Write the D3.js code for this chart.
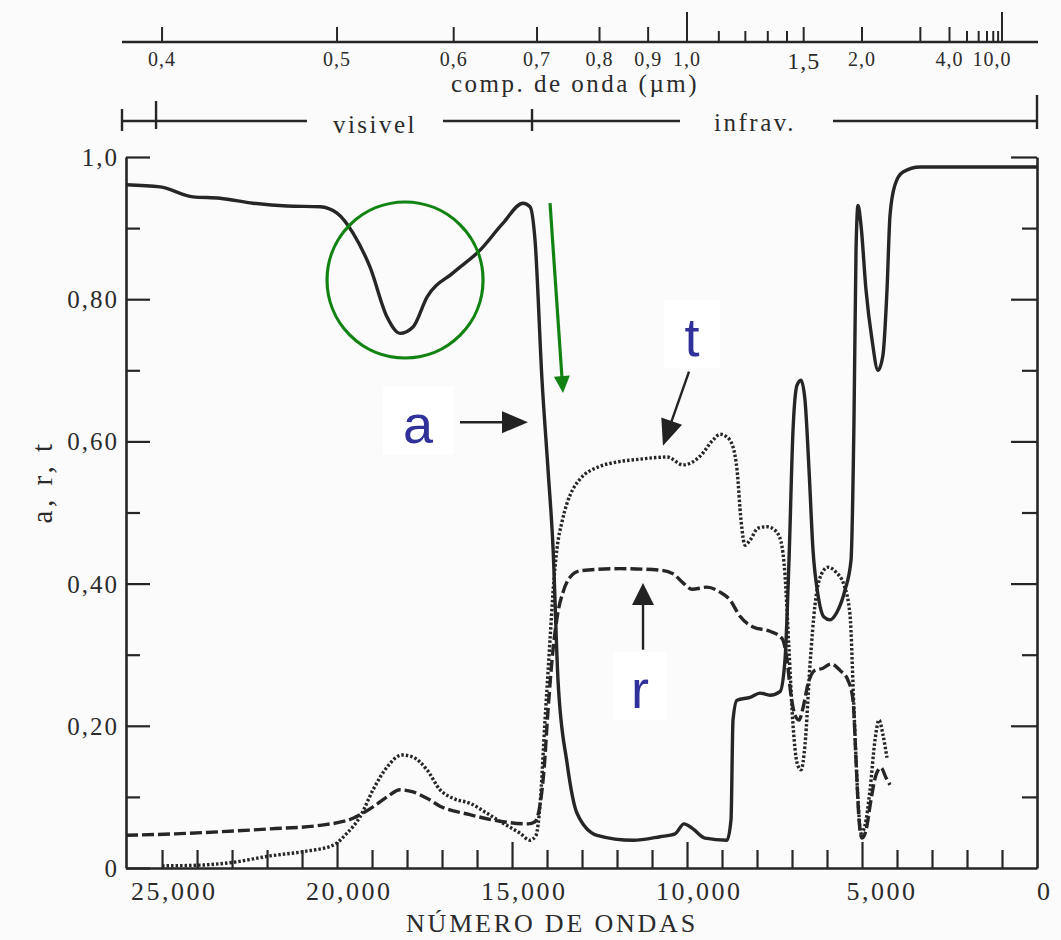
<!DOCTYPE html>
<html lang="pt">
<head>
<meta charset="utf-8">
<title>a, r, t</title>
<script src="https://cdn.jsdelivr.net/npm/d3@7/dist/d3.min.js"></script>
<style>
html,body{margin:0;padding:0;background:#fbfbfb;}
svg{display:block;}
.serif{font-family:"Liberation Serif","DejaVu Serif",serif;fill:#2b2b2b;}
.sans{font-family:"Liberation Sans",Arial,sans-serif;}
</style>
</head>
<body>
<svg id="chart" width="1061" height="940"></svg>
<script>
// ================= DATA =================
// absorptance (a) — wavenumber (cm-1) and value
const wavenumberA = [26030,25057,24114,23343,22400,21429,20486,20000,19543,19057,18571,18200,17829,17429,16686,15914,15257,14686,14486,14343,14143,13971,13829,13686,13429,13143,12571,11543,10771,10343,10086,9829,9486,8857,8743,8686,8571,8200,7914,7629,7343,7200,7086,6971,6857,6743,6629,6514,6400,6257,6086,5914,5714,5486,5314,5229,5171,5114,5029,4886,4714,4543,4400,4286,4200,4057,3829,3343,0];
const absorptance = [0.961,0.958,0.944,0.942,0.935,0.931,0.930,0.921,0.893,0.845,0.775,0.752,0.761,0.803,0.837,0.869,0.907,0.935,0.930,0.883,0.686,0.560,0.451,0.264,0.148,0.077,0.046,0.039,0.044,0.048,0.062,0.055,0.042,0.039,0.068,0.208,0.236,0.240,0.246,0.243,0.248,0.293,0.433,0.616,0.679,0.686,0.658,0.560,0.447,0.384,0.353,0.349,0.360,0.391,0.433,0.630,0.869,0.932,0.904,0.813,0.743,0.700,0.722,0.813,0.918,0.961,0.979,0.986,0.986];

// reflectance (r)
const wavenumberR = [26030,24629,23343,21914,20486,19543,18971,18571,18200,17829,17429,17057,16200,15257,14543,14343,14200,14086,13971,13829,13686,13543,13343,13057,11914,10771,10400,10114,9857,9429,9057,8771,8486,8114,7629,7286,7143,7029,6914,6800,6686,6543,6343,6114,5886,5629,5400,5257,5171,5086,5000,4886,4743,4600,4457,4314,4200];
const reflectance = [0.046,0.048,0.051,0.055,0.060,0.070,0.086,0.100,0.110,0.107,0.098,0.087,0.075,0.065,0.062,0.065,0.089,0.138,0.222,0.307,0.360,0.388,0.409,0.418,0.421,0.419,0.414,0.401,0.392,0.395,0.388,0.377,0.354,0.339,0.333,0.323,0.293,0.243,0.215,0.208,0.225,0.259,0.278,0.281,0.287,0.278,0.264,0.236,0.152,0.068,0.042,0.053,0.096,0.131,0.141,0.127,0.117];

// transmittance (t)
const wavenumberT = [25000,23914,22971,21914,20971,20114,19714,19343,18971,18571,18143,17829,17429,17057,16686,16200,15714,15257,14771,14486,14314,14200,14057,13914,13829,13714,13571,13429,13257,13057,12486,12114,11343,10571,10114,9629,9257,9057,8857,8686,8571,8457,8343,8200,7971,7714,7486,7314,7200,7086,6971,6857,6743,6629,6486,6343,6171,5971,5743,5514,5343,5229,5114,5029,4914,4771,4629,4514,4400,4286];
const transmittance = [0.003,0.004,0.008,0.017,0.023,0.032,0.049,0.072,0.110,0.142,0.159,0.156,0.138,0.110,0.098,0.091,0.077,0.063,0.049,0.039,0.046,0.089,0.208,0.321,0.388,0.450,0.487,0.513,0.533,0.547,0.565,0.570,0.575,0.578,0.567,0.579,0.602,0.610,0.606,0.592,0.560,0.489,0.454,0.461,0.478,0.480,0.475,0.459,0.412,0.307,0.201,0.148,0.138,0.173,0.286,0.370,0.412,0.423,0.416,0.398,0.356,0.222,0.096,0.049,0.060,0.110,0.180,0.208,0.187,0.155];

// bottom axis (wavenumber)
const xTickValues = [25000,20000,15000,10000,5000,0];
const xTickLabels = ["25,000","20,000","15,000","10,000","5,000","0"];
// left axis
const yTickValues = [0,0.2,0.4,0.6,0.8,1.0];
const yTickLabels = ["0","0,20","0,40","0,60","0,80","1,0"];
// top axis (wavelength, µm)
const wavelengthTicks = [0.4,0.5,0.6,0.7,0.8,0.9,1.0,1.1,1.2,1.3,1.4,1.5,2.0,3.0,4.0,5.0,6.0,7.0,8.0,9.0,10.0];
const wavelengthLabelValues = [0.4,0.5,0.6,0.7,0.8,0.9,1.0,1.5,2.0,4.0,10.0];
const wavelengthLabels = ["0,4","0,5","0,6","0,7","0,8","0,9","1,0","1,5","2,0","4,0","10,0"];

// ================= LAYOUT =================
const W = 1061, H = 940;
const plot = {left:126, right:1037, top:157, bottom:868};
const xScale = d3.scaleLinear().domain([26030, 0]).range([plot.left, plot.right]);
const yScale = d3.scaleLinear().domain([0, 1]).range([plot.bottom, plot.top]);
const ink = "#262626";
const svg = d3.select("#chart");
svg.append("rect").attr("width", W).attr("height", H).attr("fill", "#fbfbfb");

function styleAxis(g, w){
  g.select(".domain").attr("stroke", ink).attr("stroke-width", w);
  g.selectAll(".tick line").attr("stroke", ink).attr("stroke-width", 2.2);
}

// ---- left axis ----
const gL = svg.append("g").attr("transform", `translate(${plot.left},0)`)
  .call(d3.axisLeft(yScale).tickValues(yTickValues).tickFormat((d,i)=>yTickLabels[i])
    .tickSize(-24).tickSizeOuter(0).tickPadding(7));
styleAxis(gL, 2.6);
gL.selectAll(".tick text").attr("class","serif").attr("fill","#2b2b2b")
  .style("font-size","25px").style("letter-spacing","2px").attr("dy","0.34em");
const gL2 = svg.append("g").attr("transform", `translate(${plot.left},0)`)
  .call(d3.axisLeft(yScale).tickValues([0.1,0.3,0.5,0.7,0.9]).tickFormat("").tickSize(-14).tickSizeOuter(0));
gL2.select(".domain").remove(); styleAxis(gL2, 0);

// ---- right axis ----
const gR = svg.append("g").attr("transform", `translate(${plot.right},0)`)
  .call(d3.axisRight(yScale).tickValues([0.2,0.4,0.6,0.8,1.0]).tickFormat("").tickSize(-26).tickSizeOuter(0));
styleAxis(gR, 2.6);
const gR2 = svg.append("g").attr("transform", `translate(${plot.right},0)`)
  .call(d3.axisRight(yScale).tickValues([0.1,0.3,0.5,0.7,0.9]).tickFormat("").tickSize(-15).tickSizeOuter(0));
gR2.select(".domain").remove(); styleAxis(gR2, 0);

// ---- bottom axis ----
const minorX = d3.range(1000, 26000, 1000).filter(v => v % 5000 !== 0 || v === 25000);
const gB = svg.append("g").attr("transform", `translate(0,${plot.bottom})`)
  .call(d3.axisBottom(xScale).tickValues(minorX).tickFormat("").tickSize(-18).tickSizeOuter(0));
styleAxis(gB, 2.6);
const gB2 = svg.append("g").attr("transform", `translate(0,${plot.bottom})`)
  .call(d3.axisBottom(xScale).tickValues([20000,15000,10000,5000]).tickFormat("").tickSize(-26).tickSizeOuter(0));
gB2.select(".domain").remove(); styleAxis(gB2, 0);

// bottom labels: comma aligned on the tick
const measure = svg.append("text").attr("class","serif").style("font-size","26px")
  .style("letter-spacing","2.5px").attr("visibility","hidden");
const xLab = svg.append("g");
xTickValues.forEach((v,i)=>{
  const lab = xTickLabels[i];
  const k = lab.indexOf(",");
  let pre = 0;
  if (k > 0) { measure.text(lab.slice(0,k)); pre = measure.node().getComputedTextLength(); }
  xLab.append("text").attr("class","serif").attr("x", xScale(v) - pre).attr("y", plot.bottom + 32)
    .style("font-size","26px").style("letter-spacing","2.5px").text(lab);
});
measure.remove();

svg.append("text").attr("class","serif").attr("x", 552).attr("y", 932).attr("text-anchor","middle")
  .style("font-size","26px").style("letter-spacing","2.8px").text("NÚMERO DE ONDAS");

svg.append("text").attr("class","serif").attr("transform","translate(52,482) rotate(-90)")
  .attr("text-anchor","middle").style("font-size","29px").style("letter-spacing","3.5px").text("a, r, t");

// ---- top wavelength axis ----
const topY = 42;
const lamX = l => xScale(10000 / l);
const gT = svg.append("g");
gT.append("line").attr("x1", 122).attr("x2", 1038).attr("y1", topY).attr("y2", topY)
  .attr("stroke", ink).attr("stroke-width", 2.4);
gT.selectAll("line.tk").data(wavelengthTicks).join("line").attr("class","tk")
  .attr("x1", d => lamX(d)).attr("x2", d => lamX(d)).attr("y1", topY)
  .attr("y2", d => topY - ((d === 1.0 || d === 10.0) ? 30 : (wavelengthLabelValues.includes(d) || d === 3.0) ? 15 : 11))
  .attr("stroke", ink).attr("stroke-width", 2);
gT.selectAll("text").data(wavelengthLabelValues).join("text").attr("class","serif")
  .attr("x", d => lamX(d) + (d === 10.0 ? -10 : 0))
  .attr("y", d => d === 1.5 ? topY + 27 : topY + 24)
  .attr("text-anchor","middle")
  .style("font-size", d => d === 1.5 ? "24px" : "20px").style("letter-spacing","1px")
  .text((d,i) => wavelengthLabels[i]);
svg.append("text").attr("class","serif").attr("x", 575).attr("y", 92).attr("text-anchor","middle")
  .style("font-size","25px").style("letter-spacing","2.5px").text("comp. de onda (µm)");

// ---- visible / infrared band ----
const bandY = 121;
const gBand = svg.append("g").attr("stroke", ink).attr("stroke-width", 2.4);
[[122, 307], [443, 680], [833, 1037]].forEach(s =>
  gBand.append("line").attr("x1", s[0]).attr("x2", s[1]).attr("y1", bandY).attr("y2", bandY));
gBand.append("line").attr("x1", 122).attr("x2", 122).attr("y1", bandY - 12).attr("y2", bandY + 10);
gBand.append("line").attr("x1", lamX(0.4)-6).attr("x2", lamX(0.4)-6).attr("y1", bandY - 20).attr("y2", bandY + 8);
gBand.append("line").attr("x1", lamX(0.7)-5).attr("x2", lamX(0.7)-5).attr("y1", bandY - 12).attr("y2", bandY + 10);
gBand.append("line").attr("x1", 1037).attr("x2", 1037).attr("y1", bandY - 26).attr("y2", bandY + 8);
svg.append("text").attr("class","serif").attr("x", 375).attr("y", 133).attr("text-anchor","middle")
  .style("font-size","25px").style("letter-spacing","2.5px").text("visivel");
svg.append("text").attr("class","serif").attr("x", 755).attr("y", 131).attr("text-anchor","middle")
  .style("font-size","25px").style("letter-spacing","2.5px").text("infrav.");

// ---- curves ----
const series = [
  {name:"a", wn:wavenumberA, val:absorptance, dash:null},
  {name:"r", wn:wavenumberR, val:reflectance, dash:"12,4"},
  {name:"t", wn:wavenumberT, val:transmittance, dash:"2.5,2"}
];
const line = d3.line().x(d => xScale(d[0])).y(d => yScale(d[1])).curve(d3.curveMonotoneX);
svg.append("g").selectAll("path").data(series).join("path")
  .attr("d", s => line(d3.zip(s.wn, s.val)))
  .attr("fill","none").attr("stroke", ink).attr("stroke-width", 3.4)
  .attr("stroke-linejoin","round")
  .attr("stroke-dasharray", s => s.dash);

// ---- annotations ----
const ann = svg.append("g");
function arrow(x1, y1, x2, y2, len, half, color, w){
  const dx = x2 - x1, dy = y2 - y1, L = Math.hypot(dx, dy), ux = dx / L, uy = dy / L;
  const bx = x2 - ux * len, by = y2 - uy * len;
  ann.append("line").attr("x1", x1).attr("y1", y1).attr("x2", bx + ux * 3).attr("y2", by + uy * 3)
    .attr("stroke", color).attr("stroke-width", w);
  ann.append("path").attr("d", `M${x2},${y2}L${bx - uy * half},${by + ux * half}L${bx + uy * half},${by - ux * half}Z`)
    .attr("fill", color);
}
const P = (w, v) => [xScale(w), yScale(v)];
// green circle and arrow
const cc = P(18057, 0.827);
ann.append("circle").attr("cx", cc[0]).attr("cy", cc[1]).attr("r", 78)
  .attr("fill","none").attr("stroke","#128312").attr("stroke-width", 3.2);
const g1 = P(13914, 0.935), g2 = P(13543, 0.668);
arrow(g1[0], g1[1], g2[0], g2[1], 17, 8, "#128312", 3.2);

// blue labels with white boxes
const labels = [
  {txt:"a", c:P(17686, 0.629), w:70, h:68},
  {txt:"t", c:P(9857, 0.751), w:56, h:68},
  {txt:"r", c:P(11343, 0.256), w:54, h:68}
];
labels.forEach(l => {
  ann.append("rect").attr("x", l.c[0] - l.w/2).attr("y", l.c[1] - l.h/2).attr("width", l.w).attr("height", l.h).attr("fill","#ffffff");
  ann.append("text").attr("class","sans").attr("x", l.c[0]).attr("y", l.c[1] + 22).attr("text-anchor","middle")
    .style("font-size","54px").attr("fill","#31319c").text(l.txt);
});
const a1 = P(16486, 0.627), a2 = P(14543, 0.627);
arrow(a1[0], a1[1], a2[0], a2[1], 26, 11, "#222", 2.4);
const t1 = P(9943, 0.698), t2 = P(10686, 0.594);
arrow(t1[0], t1[1], t2[0], t2[1], 26, 11, "#222", 2.4);
const r1 = P(11257, 0.307), r2 = P(11257, 0.401);
arrow(r1[0], r1[1], r2[0], r2[1], 22, 11, "#222", 2.4);
</script>
</body>
</html>
